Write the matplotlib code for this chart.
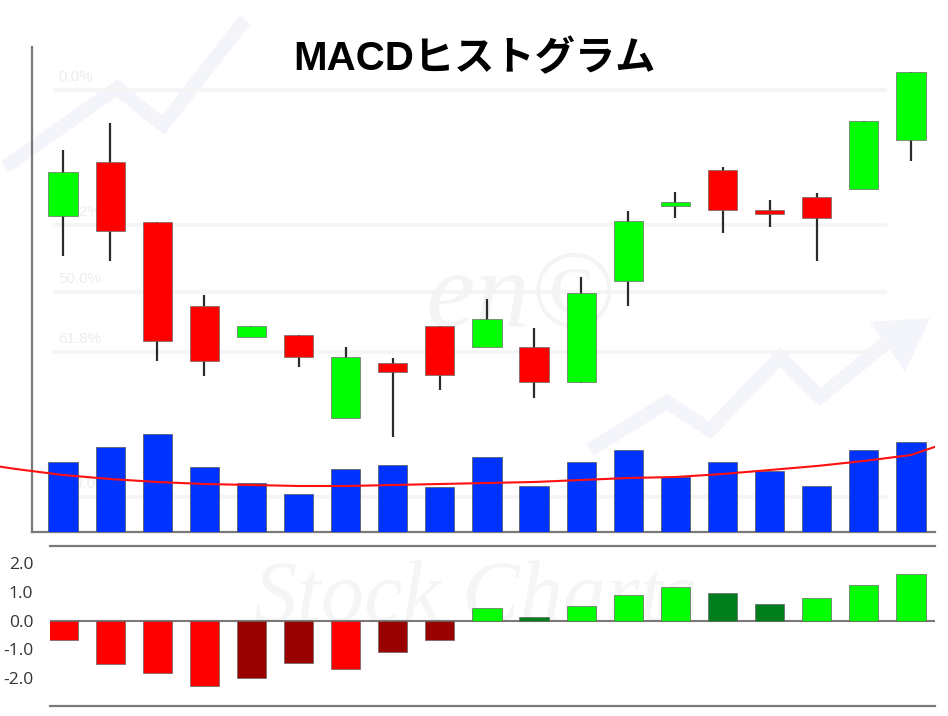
import numpy as np
import matplotlib.pyplot as plt
from matplotlib.patches import Rectangle

plt.rcParams['font.family'] = ['Liberation Sans', 'Noto Sans CJK JP', 'DejaVu Sans']

# ---------- data ----------
title = "MACDヒストグラム"

opens = [65.2, 76.3, 63.9, 46.6, 40.2, 40.6, 23.5, 34.8, 42.5, 38.1,
         38.1, 30.9, 51.8, 67.2, 74.6, 66.4, 69.1, 70.7, 80.8]
closes = [74.2, 62.1, 39.4, 35.3, 42.5, 36.1, 36.1, 33.0, 32.4, 43.9,
          30.9, 49.3, 64.1, 68.0, 66.4, 65.6, 64.7, 84.7, 94.8]
highs = [78.8, 84.3, 63.9, 48.9, 42.5, 40.6, 38.1, 35.9, 42.5, 48.0,
         42.1, 52.6, 66.2, 70.1, 75.3, 68.5, 69.9, 84.7, 94.8]
lows = [56.9, 55.9, 35.3, 32.2, 40.2, 34.0, 23.5, 19.6, 29.3, 38.1,
        27.6, 30.7, 46.6, 64.7, 61.6, 62.9, 55.9, 70.7, 76.5]

volume = [70, 85, 98, 65, 49, 38, 63, 67, 45, 75,
          46, 70, 82, 55, 70, 61, 46, 82, 90]
# moving average of volume, one value per slot from two before the first bar to one after the last
volume_ma = [70, 63, 57, 53, 50, 48, 47, 46, 46, 47, 48, 49,
             50, 52, 54, 55, 58, 62, 66, 71, 77, 93]

macd_hist = [-0.66, -1.50, -1.84, -2.26, -2.00, -1.46, -1.67, -1.08, -0.66, 0.45,
             0.14, 0.52, 0.90, 1.18, 0.94, 0.56, 0.77, 1.22, 1.60]
macd_ticks = [2.0, 1.0, 0.0, -1.0, -2.0]

fib_levels = [91.1, 63.3, 49.5, 37.1, 7.2]
fib_labels = ["0.0%", "38.2%", "50.0%", "61.8%", "100.0%"]

# ---------- style ----------
GREEN, RED = "#00ff00", "#ff0000"
DARK_GREEN, DARK_RED = "#007d1c", "#990000"
BLUE = "#0033ff"
SPINE = "#7d7877"
WM = "#f4f4f4"
WM_BLUE = "#f3f5fb"

n = len(opens)
x = np.arange(n)
o, c = np.array(opens), np.array(closes)

W, H = 948, 716
fig = plt.figure(figsize=(W / 100, H / 100), dpi=100)


def fx(p):
    return p / W


def fy(p):
    return 1 - p / H


# ---------- watermark ----------
wm_ax = fig.add_axes([0, 0, 1, 1], zorder=-5)
wm_ax.set_xlim(0, W)
wm_ax.set_ylim(H, 0)
wm_ax.axis("off")
wm_ax.plot([5, 117, 163, 245], [167, 88, 125, 20], color=WM_BLUE, lw=10,
           solid_joinstyle="miter", solid_capstyle="butt")
wm_ax.plot([590, 667, 710, 780, 820, 890], [450, 402, 430, 357, 397, 340],
           color=WM_BLUE, lw=10, solid_joinstyle="miter", solid_capstyle="butt")
wm_ax.fill([870, 930, 905], [322, 318, 372], color=WM_BLUE, lw=0)
for lvl, lab in zip(fib_levels, fib_labels):
    yp = 532 - lvl * 4.85
    wm_ax.plot([55, 885], [yp, yp], color="#f5f5f5", lw=3)
    wm_ax.text(58, yp - 6, lab, color="#ededed", fontsize=11, va="bottom")
wm_ax.text(520, 300, "en©", fontsize=80, style="italic", family="Liberation Serif",
           color=WM, ha="center", va="center")
wm_ax.text(475, 600, "Stock Charts", fontsize=62, style="italic",
           family="Liberation Serif", color="#f5f5f5", ha="center", va="center")

# ---------- price / volume panel ----------
ax = fig.add_axes([fx(32), fy(532), fx(935) - fx(32), fy(47) - fy(532)])
ax.patch.set_visible(False)
ax.set_xlim(-0.658, 18.51)
ax.set_ylim(0, 100)

up = c >= o
body_col = np.where(up, GREEN, RED)
body_h = np.maximum(np.abs(c - o), 0.8)
ax.vlines(x, lows, highs, color="#2b2b2b", lw=1.6, zorder=2)
ax.bar(x, body_h, bottom=np.minimum(o, c), width=0.62, color=body_col,
       edgecolor="#6a6a6a", linewidth=0.5, zorder=3)

for s in ("top", "right"):
    ax.spines[s].set_visible(False)
for s in ("left", "bottom"):
    ax.spines[s].set_color(SPINE)
    ax.spines[s].set_linewidth(1.6)
ax.set_xticks([])
ax.set_yticks([])

axv = ax.twinx()
axv.set_ylim(0, 485)
axv.bar(x, volume, width=0.62, color=BLUE, edgecolor="#555555", linewidth=0.5, zorder=2)
(ma_line,) = axv.plot(np.arange(-2, n + 1), volume_ma, color="#ff1010", lw=1.5, zorder=4)
ma_line.set_clip_path(Rectangle((0, 0), fx(935), 1, transform=fig.transFigure))
for s in axv.spines.values():
    s.set_visible(False)
axv.set_yticks([])

# ---------- MACD histogram panel ----------
axm = fig.add_axes([fx(50), fy(706), fx(935) - fx(50), fy(546) - fy(706)])
axm.patch.set_visible(False)
axm.set_xlim(-0.276, 18.51)
axm.set_ylim(-2.97, 2.59)

h = np.array(macd_hist)
prev = np.concatenate([[0.0], h[:-1]])
rising = h > prev
colors = np.where(h >= 0, np.where(rising, GREEN, DARK_GREEN),
                  np.where(rising, DARK_RED, RED))
axm.bar(x, h, width=0.62, color=colors, edgecolor="#666666", linewidth=0.5, zorder=3)
axm.axhline(0, color=SPINE, lw=1.5, zorder=2)

for s in ("left", "right"):
    axm.spines[s].set_visible(False)
for s in ("top", "bottom"):
    axm.spines[s].set_color(SPINE)
    axm.spines[s].set_linewidth(1.6)
axm.set_xticks([])
axm.set_yticks(macd_ticks)
axm.set_yticklabels([f"{t:.1f}" for t in macd_ticks], family="Open Sans",
                    fontsize=12.5, color="#333333")
axm.tick_params(axis="y", length=0, pad=12)

# ---------- title ----------
fig.text(0.5, fy(70), title, ha="center", va="baseline", fontsize=29,
         fontweight="bold", color="black")

fig.savefig("out.png", dpi=100)
